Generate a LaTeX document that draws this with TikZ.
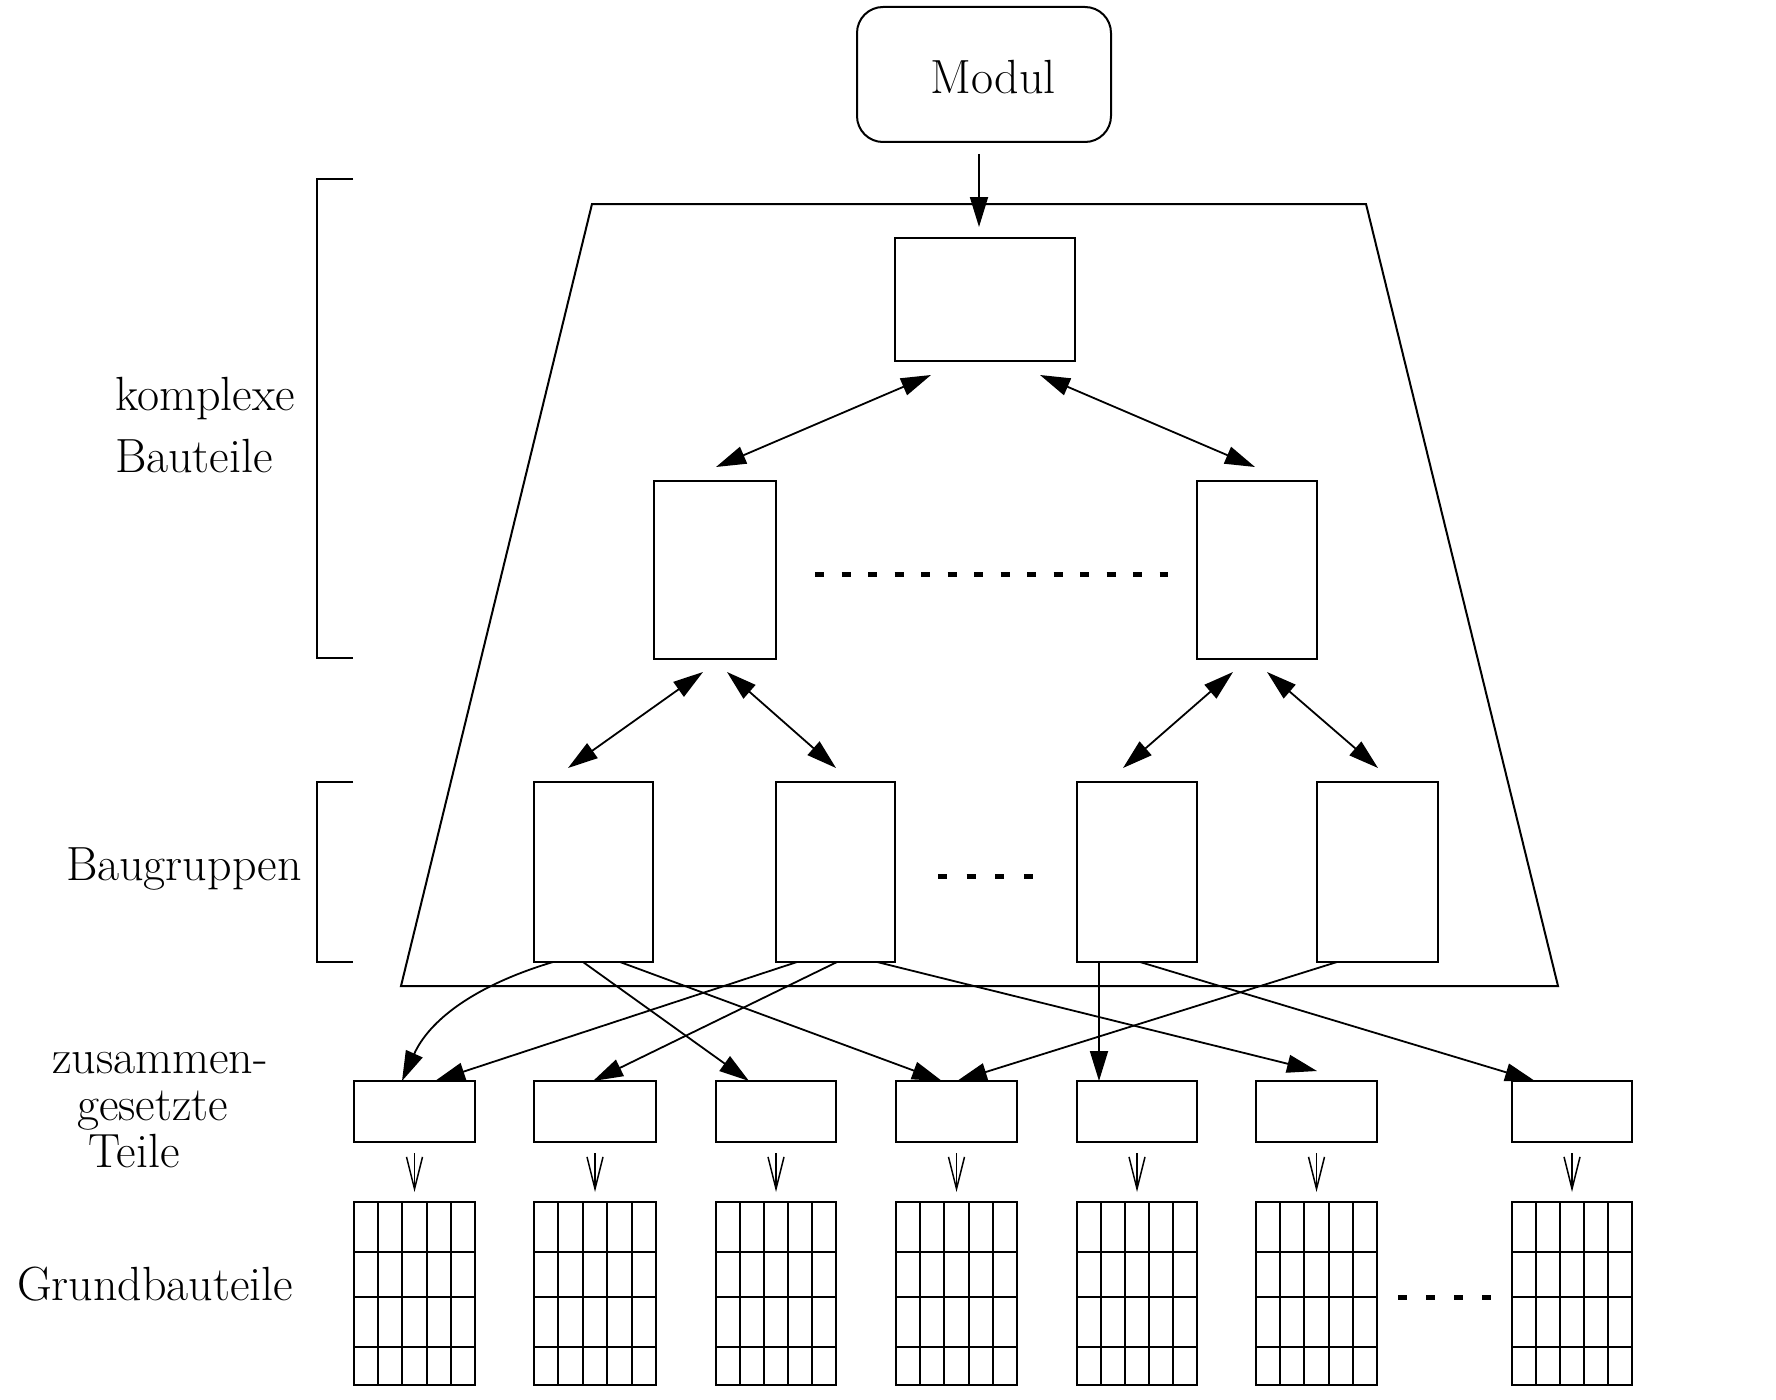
\documentclass[tikz,border=0pt]{standalone}
\usetikzlibrary{arrows.meta,calc}
\begin{document}
\begin{tikzpicture}[x=1pt,y=-1pt,line width=2pt,
  box/.style={draw,rectangle,inner sep=0pt,outer sep=0pt,line width=2pt},
  lbl/.style={font=\fontsize{48}{56}\selectfont,inner sep=0pt,anchor=base west},
  arr/.style={-{Triangle[length=30pt,width=18pt]},line width=1.8pt},
  darr/.style={{Triangle[length=30pt,width=18pt]}-{Triangle[length=30pt,width=18pt]},line width=1.8pt},
  harr/.style={-{Straight Barb[length=32pt,width=16pt,line width=1.5pt]},line width=1.5pt},
  dotline/.style={line width=5pt,dash pattern=on 9pt off 17.5pt}
]
\path[fill=white,use as bounding box] (0,0) rectangle (1776,1399);

% trapezoid
\draw (592,204) -- (1366,204) -- (1558,986) -- (401,986) -- cycle;

% brackets
\draw (353,179) -- (317,179) -- (317,658) -- (353,658);
\draw (353,782) -- (317,782) -- (317,962) -- (353,962);

% labels
\node[lbl] (l1) at (114,410) {komplexe};
\node[lbl] (l2) at (114,472) {Bauteile};
\node[lbl] (l3) at (65,880) {Baugruppen};
\node[lbl] (l4) at (51,1073) {zusammen-};
\node[lbl] (l5) at (76,1120) {gesetzte};
\node[lbl,anchor=base] (l6) at (134,1167) {Teile};
\node[lbl] (l7) at (16,1300) {Grundbauteile};

% Modul
\node[box,rounded corners=26pt,minimum width=254pt,minimum height=135pt,
  font=\fontsize{48}{56}\selectfont,text height=39pt,text depth=0pt] (M) at (984,74.5) {\hspace*{18pt}Modul};

% complex parts
\node[box,minimum width=180pt,minimum height=123pt] (T) at (985,299.5) {};
\node[box,minimum width=122pt,minimum height=178pt] (A1) at (715,570) {};
\node[box,minimum width=120pt,minimum height=178pt] (A2) at (1257,570) {};

% Baugruppen
\node[box,minimum width=119pt,minimum height=180pt] (B1) at (593.5,872) {};
\node[box,minimum width=119pt,minimum height=180pt] (B2) at (835.5,872) {};
\node[box,minimum width=120pt,minimum height=180pt] (B3) at (1137,872) {};
\node[box,minimum width=121pt,minimum height=180pt] (B4) at (1377.5,872) {};

% composite parts
\node[box,minimum width=121pt,minimum height=61pt] (Z1) at (414.5,1111.5) {};
\node[box,minimum width=122pt,minimum height=61pt] (Z2) at (595,1111.5) {};
\node[box,minimum width=120pt,minimum height=61pt] (Z3) at (776,1111.5) {};
\node[box,minimum width=121pt,minimum height=61pt] (Z4) at (956.5,1111.5) {};
\node[box,minimum width=120pt,minimum height=61pt] (Z5) at (1137,1111.5) {};
\node[box,minimum width=121pt,minimum height=61pt] (Z6) at (1316.5,1111.5) {};
\node[box,minimum width=120pt,minimum height=61pt] (Z7) at (1572,1111.5) {};

% basic parts (grids)
\node[box,minimum width=121pt,minimum height=183pt] (G1) at (414.5,1293.5) {};
\node[box,minimum width=122pt,minimum height=183pt] (G2) at (595,1293.5) {};
\node[box,minimum width=120pt,minimum height=183pt] (G3) at (776,1293.5) {};
\node[box,minimum width=121pt,minimum height=183pt] (G4) at (956.5,1293.5) {};
\node[box,minimum width=120pt,minimum height=183pt] (G5) at (1137,1293.5) {};
\node[box,minimum width=121pt,minimum height=183pt] (G6) at (1316.5,1293.5) {};
\node[box,minimum width=120pt,minimum height=183pt] (G7) at (1572,1293.5) {};
\foreach \g in {G1,G2,G3,G4,G5,G6,G7} {
  \foreach \f in {0.2,0.4,0.6,0.8}
    \draw ($(\g.north west)!\f!(\g.north east)$) -- ($(\g.south west)!\f!(\g.south east)$);
  \foreach \f in {0.273,0.519,0.792}
    \draw ($(\g.north west)!\f!(\g.south west)$) -- ($(\g.north east)!\f!(\g.south east)$);
}

% dots
\draw[dotline] (815,574) -- (1168,574);
\draw[dotline,dash pattern=on 9pt off 19.7pt] (938,876) -- (1033,876);
\draw[dotline,dash pattern=on 9pt off 19pt] (1398,1297) -- (1491,1297);

% connectors
\draw[arr] ([xshift=-5pt,yshift=-12pt]M.south) -- ([xshift=-6pt,yshift=11pt]T.north);

\draw[darr] ([xshift=-54pt,yshift=-14pt]T.south) -- ([xshift=1pt,yshift=14pt]A1.north);
\draw[darr] ([xshift=55pt,yshift=-14pt]T.south) -- ([xshift=-2pt,yshift=14pt]A2.north);
\draw[darr] ([xshift=-12pt,yshift=-13pt]A1.south) -- ([xshift=-25.5pt,yshift=14pt]B1.north);
\draw[darr] ([xshift=12pt,yshift=-13pt]A1.south) -- ([xshift=0.5pt,yshift=14pt]B2.north);
\draw[darr] ([xshift=-24pt,yshift=-13pt]A2.south) -- ([xshift=-14pt,yshift=14pt]B3.north);
\draw[darr] ([xshift=10pt,yshift=-13pt]A2.south) -- ([xshift=0.5pt,yshift=14pt]B4.north);

\draw[arr] ([xshift=-40.5pt]B1.south) .. controls +(-80,24) and +(27,-60) .. ([xshift=-12.5pt]Z1.north);
\draw[arr] ([xshift=-10.5pt]B1.south) -- ([xshift=-27pt]Z3.north);
\draw[arr] ([xshift=26.5pt]B1.south) -- ([xshift=-14.5pt]Z4.north);
\draw[arr] ([xshift=-38.5pt]B2.south) -- ([xshift=20.5pt]Z1.north);
\draw[arr] ([xshift=1.5pt]B2.south) -- ([xshift=-2pt]Z2.north);
\draw[arr] ([xshift=41.5pt]B2.south) -- ([xshift=0.5pt,yshift=10pt]Z6.north);
\draw[arr] ([xshift=-38pt]B3.south) -- ([xshift=-38pt]Z5.north);
\draw[arr] ([xshift=3pt]B3.south) -- ([xshift=-37pt]Z7.north);
\draw[arr] ([xshift=-40.5pt]B4.south) -- ([xshift=0.5pt]Z4.north);

\foreach \i in {1,...,7}
  \draw[harr] ([yshift=-11pt]Z\i.south) -- ([yshift=10pt]G\i.north);
\end{tikzpicture}
\end{document}
